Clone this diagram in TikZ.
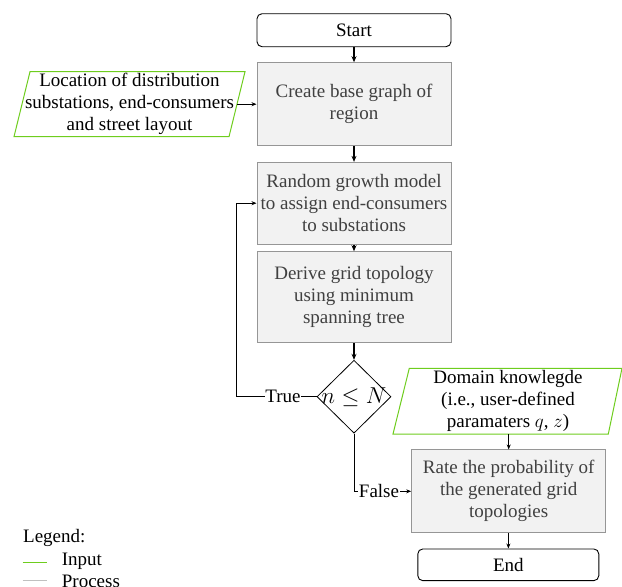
\RequirePackage{fix-cm}
\documentclass[tikz,border=0pt]{standalone}
\usepackage{fontspec}
\setmainfont{LiberationSerif}[Extension=.ttf, UprightFont=*-Regular, BoldFont=*-Bold, ItalicFont=*-Italic, BoldItalicFont=*-BoldItalic]
\usetikzlibrary{shapes.geometric,arrows.meta}
\definecolor{inpgreen}{RGB}{110,205,30}
\definecolor{procgray}{RGB}{150,150,150}
\definecolor{procfill}{RGB}{242,242,242}
\definecolor{proctext}{RGB}{64,64,64}
\begin{document}
\begin{tikzpicture}[x=1pt,y=-1pt,
  txt/.style={font=\fontsize{19}{22}\selectfont, align=center},
  term/.style={txt, draw=black, line width=0.9pt, rounded corners=5pt, minimum width=194pt, minimum height=33pt, inner sep=0pt},
  proc/.style={txt, draw=procgray, line width=1pt, fill=procfill, text=proctext, minimum width=194pt, inner sep=0pt},
  inp/.style={draw=inpgreen, line width=1pt},
  flow/.style={-{Stealth[length=6pt,width=5pt]}, line width=1.2pt},
  thinarrow/.style={-{Stealth[length=5pt,width=4pt]}, line width=0.8pt},
  thinline/.style={line width=0.8pt},
  lbl/.style={txt, inner sep=0.5pt},
  legtxt/.style={txt, anchor=west, inner sep=0pt}
]
\useasboundingbox (0,0) rectangle (622,587);

% main flow
\node[term] (start) at (354,30.2) {Start};
\node[proc, minimum height=83pt] (base) at (354,104.2) {Create base graph of\\region};
\node[proc, minimum height=81.7pt] (rand) at (354,203.2) {Random growth model\\to assign end-consumers\\to substations};
\node[proc, minimum height=91pt] (deriv) at (354,297.2) {Derive grid topology\\using minimum\\spanning tree};
\node[diamond, draw, line width=0.8pt, minimum width=74pt, minimum height=73pt, inner sep=0pt] (dec) at (354,396.7) {};
\node[font=\fontsize{23}{26}\selectfont, inner sep=0pt] (dectext) at (dec.center) {$n\le N$};
\node[proc, minimum height=82.7pt] (rate) at (508.7,491.3) {Rate the probability of\\the generated grid\\topologies};
\node[term, minimum width=181pt, minimum height=31.7pt] (end) at (508.3,564.8) {End};

% inputs
\draw[inp] (14,136.7) -- (229,136.7) -- (245,71.7) -- (30,71.7) -- cycle;
\node[txt, inner sep=0pt] (loc) at (129.5,104.2) {Location of distribution\\substations, end-consumers\\and street layout};
\coordinate (locE) at (237,104.2);
\draw[inp] (393,434) -- (608.3,434) -- (622,368.3) -- (409.3,368.3) -- cycle;
\node[txt, inner sep=0pt] (dom) at (508,401) {Domain knowlegde\\(i.e., user-defined\\paramaters $q$, $z$)};
\coordinate (domS) at (508.7,434);

% connectors
\draw[flow] (start) -- (base);
\draw[flow] (base) -- (rand);
\draw[flow] (rand) -- (deriv);
\draw[flow] (deriv) -- (dec);
\draw[thinarrow] (locE) -- (base.west);
\draw[thinarrow] (domS) -- (rate.north);
\draw[thinarrow] (rate) -- (end);

\node[lbl] (true) at (283,396.7) {True};
\draw[thinline] (dec.west) -- (true.east);
\coordinate (loop) at (236,396.7);
\draw[thinarrow] (true.west) -- (loop) |- (rand.west);

\node[lbl] (false) at (379,491.3) {False};
\draw[thinline] (dec.south) |- (false.west);
\draw[thinarrow] (false.east) -- (rate.west);

% legend
\node[legtxt] (leg) at (23,538.3) {Legend:};
\node[legtxt] (li) at (61.7,561.7) {Input};
\draw[inpgreen, line width=1pt] (22.7,562.7) -- (46.7,562.7);
\node[legtxt] (lp) at (61.7,581.7) {Process};
\draw[procgray!60, line width=1pt] (22.7,580.7) -- (46.7,580.7);
\end{tikzpicture}
\end{document}
